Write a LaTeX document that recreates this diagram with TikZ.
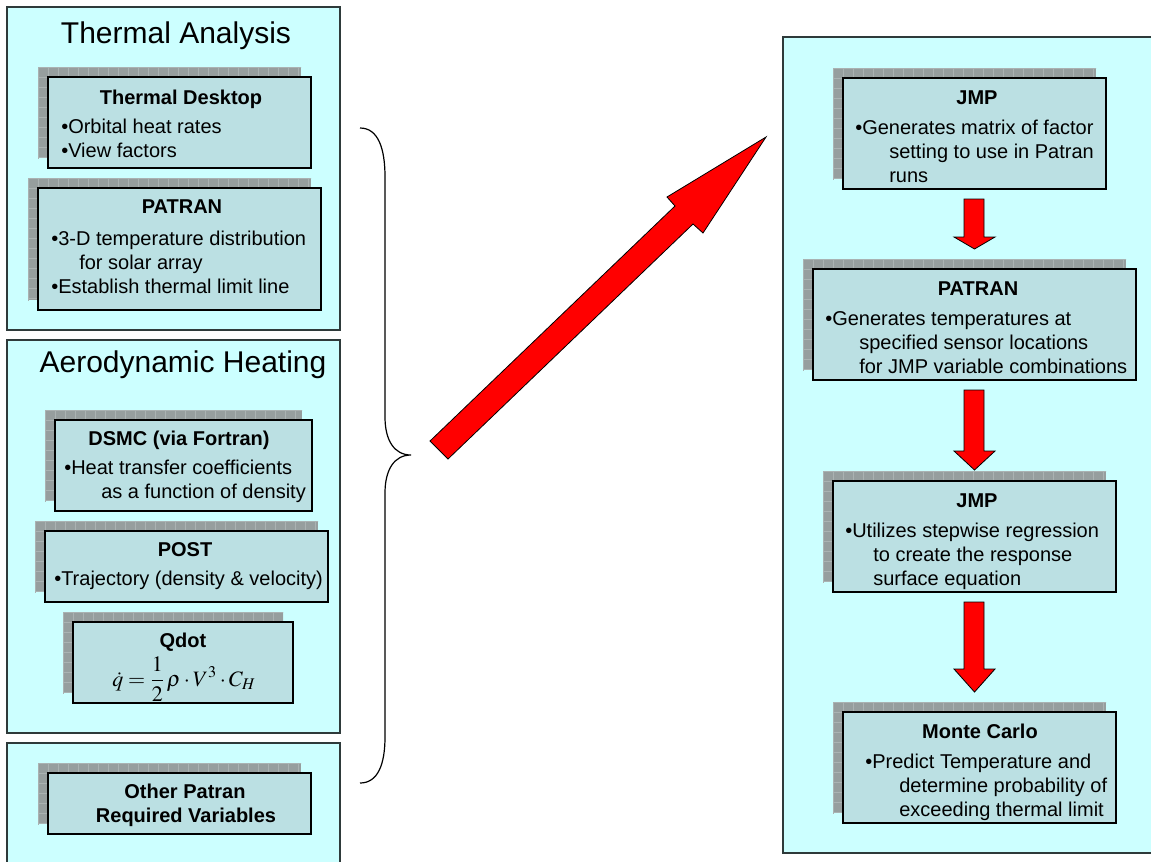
\documentclass[tikz,border=0pt]{standalone}
\usepackage{mathptmx}
\usepackage{fontspec}
\setmainfont{Liberation Sans}
\usetikzlibrary{fit}
\definecolor{panelfill}{HTML}{CCFFFF}
\definecolor{boxfill}{HTML}{BBE0E3}
\definecolor{shfill}{HTML}{969E9E}
\definecolor{shline}{HTML}{AAB2B2}
\definecolor{panelline}{HTML}{2E3A3A}
\definecolor{arrowred}{HTML}{FF0000}
\tikzset{
  panelst/.style={draw=panelline, fill=panelfill, line width=0.9pt, inner sep=0pt},
  boxst/.style={draw=black, fill=boxfill, line width=1pt, inner sep=0pt},
  shadowfill/.style={fill=shfill},
  gridline/.style={draw=shline, line width=0.5pt},
  ttl/.style={font=\fontsize{15}{18}\bfseries\selectfont, anchor=base, inner sep=0pt},
  txt/.style={font=\fontsize{15}{18}\selectfont, anchor=base west, inner sep=0pt},
  bigttl/.style={font=\fontsize{22.5}{27}\selectfont, anchor=base, inner sep=0pt},
  blockarrow/.style={fill=arrowred, draw=black, line width=0.6pt, line join=miter},
  bracest/.style={draw=black, line width=0.9pt}
}
\newcommand\mkshadow[4]{%
  \fill[shadowfill] (#1,#2) rectangle (#3,#4);
  \begin{scope}
    \clip (#1,#2) rectangle (#3,#4);
    \foreach \gx in {0,10,...,400} \draw[gridline] (#1+\gx,#2) -- ++(0,150);
    \foreach \gy in {0,10,...,150} \draw[gridline] (#1,#2+\gy) -- ++(400,0);
  \end{scope}}
\newcommand\mkbox[5]{%
  \mkshadow{#2-10}{#3-10}{#4-10}{#5-10}
  \coordinate (#1-a) at (#2,#3);
  \coordinate (#1-b) at (#4,#5);
  \node[boxst, fit=(#1-a)(#1-b)] (#1) {};}
\newcommand\mkpanel[5]{%
  \coordinate (#1-a) at (#2,#3);
  \coordinate (#1-b) at (#4,#5);
  \node[panelst, fit=(#1-a)(#1-b)] (#1) {};}
\begin{document}
\begin{tikzpicture}[x=0.75pt, y=-0.75pt]
\useasboundingbox (0,0) rectangle (1151,861);
\clip (0,0) rectangle (1151,861);
\fill[white] (0,0) rectangle (1151,861);

% ---------- panels ----------
\mkpanel{p1}{7}{7}{340}{330}
\mkpanel{p2}{7}{340}{340}{733}
\mkpanel{p3}{7}{743}{340}{880}
\mkpanel{p4}{783}{37}{1170}{853}

% ---------- Thermal Analysis ----------
\node[bigttl] (taT) at (176,43) {Thermal Analysis};
\mkbox{td}{48}{77}{311}{168}
\node[ttl] (tdT) at (181,104) {Thermal Desktop};
\node[txt] (td1) at (61,133) {•Orbital heat rates};
\node[txt] (td2) at (61,157) {•View factors};

\mkbox{pa}{38}{188}{321}{310}
\node[ttl] (paT) at (182,213) {PATRAN};
\node[txt] (pa1) at (51,245) {•3-D temperature distribution};
\node[txt] (pa2) at (79,269) {for solar array};
\node[txt] (pa3) at (51,293) {•Establish thermal limit line};

% ---------- Aerodynamic Heating ----------
\node[bigttl] (ahT) at (183,372) {Aerodynamic Heating};
\mkbox{ds}{55}{420}{312}{511}
\node[ttl] (dsT) at (179,445) {DSMC (via Fortran)};
\node[txt] (ds1) at (64,474) {•Heat transfer coefficients};
\node[txt] (ds2) at (101,498) {as a function of density};

\mkbox{po}{45}{531}{328}{602}
\node[ttl] (poT) at (185,556) {POST};
\node[txt] (po1) at (54,585) {•Trajectory (density \& velocity)};

\mkbox{qd}{73}{622}{293}{703}
\node[ttl] (qdT) at (183,647) {Qdot};
\node[inner sep=0pt, font=\fontsize{16.5}{20}\selectfont] (qdF) at (184,679)
  {$\displaystyle \dot{q}=\frac{1}{2}\,\rho\cdot V^{3}\cdot C_{H}$};

% ---------- Other ----------
\mkbox{ot}{48}{773}{311}{834}
\node[ttl] (ot1) at (185,798) {Other Patran};
\node[ttl] (ot2) at (186,822) {Required Variables};

% ---------- Right column ----------
\mkbox{j1}{843}{78}{1106}{189}
\node[ttl] (j1T) at (977,104) {JMP};
\node[txt] (j11) at (855,134) {•Generates matrix of factor};
\node[txt] (j12) at (889,158) {setting to use in Patran};
\node[txt] (j13) at (889,182) {runs};

\mkbox{pr}{813}{269}{1136}{380}
\node[ttl] (prT) at (978,295) {PATRAN};
\node[txt] (pr1) at (825,325) {•Generates temperatures at};
\node[txt] (pr2) at (859,349) {specified sensor locations};
\node[txt] (pr3) at (859,373) {for JMP variable combinations};

\mkbox{j2}{833}{481}{1116}{592}
\node[ttl] (j2T) at (977,507) {JMP};
\node[txt] (j21) at (845,537) {•Utilizes stepwise regression};
\node[txt] (j22) at (873,561) {to create the response};
\node[txt] (j23) at (873,585) {surface equation};

\mkbox{mc}{843}{712}{1116}{823}
\node[ttl] (mcT) at (980,738) {Monte Carlo};
\node[txt] (mc1) at (865,768) {•Predict Temperature and};
\node[txt] (mc2) at (899,792) {determine probability of};
\node[txt] (mc3) at (899,816) {exceeding thermal limit};

% ---------- block arrows ----------
\draw[blockarrow] (964,199) -- (984,199) -- (984,237) -- (995,237) -- (974.5,249)
  -- (954,237) -- (964,237) -- cycle;
\draw[blockarrow] (964,390) -- (984,390) -- (984,451) -- (995,451) -- (974.5,470)
  -- (954,451) -- (964,451) -- cycle;
\draw[blockarrow] (964,602) -- (984,602) -- (984,669) -- (995,669) -- (974.5,692)
  -- (954,669) -- (964,669) -- cycle;

% big diagonal arrow
\draw[blockarrow] (430,441) -- (675,206) -- (667,197) -- (766,137) -- (703,233)
  -- (693,224) -- (448,459) -- cycle;

% ---------- brace ----------
\coordinate (brTop) at (360,128);
\coordinate (brTip) at (411,455);
\coordinate (brBot) at (360,783);
\draw[bracest] (brTop) .. controls (378,128) and (385,148) .. (385,177)
  -- (385,417) .. controls (385,440) and (394,455) .. (brTip)
  .. controls (394,455) and (385,470) .. (385,493)
  -- (385,737) .. controls (385,764) and (378,783) .. (brBot);
\end{tikzpicture}
\end{document}
